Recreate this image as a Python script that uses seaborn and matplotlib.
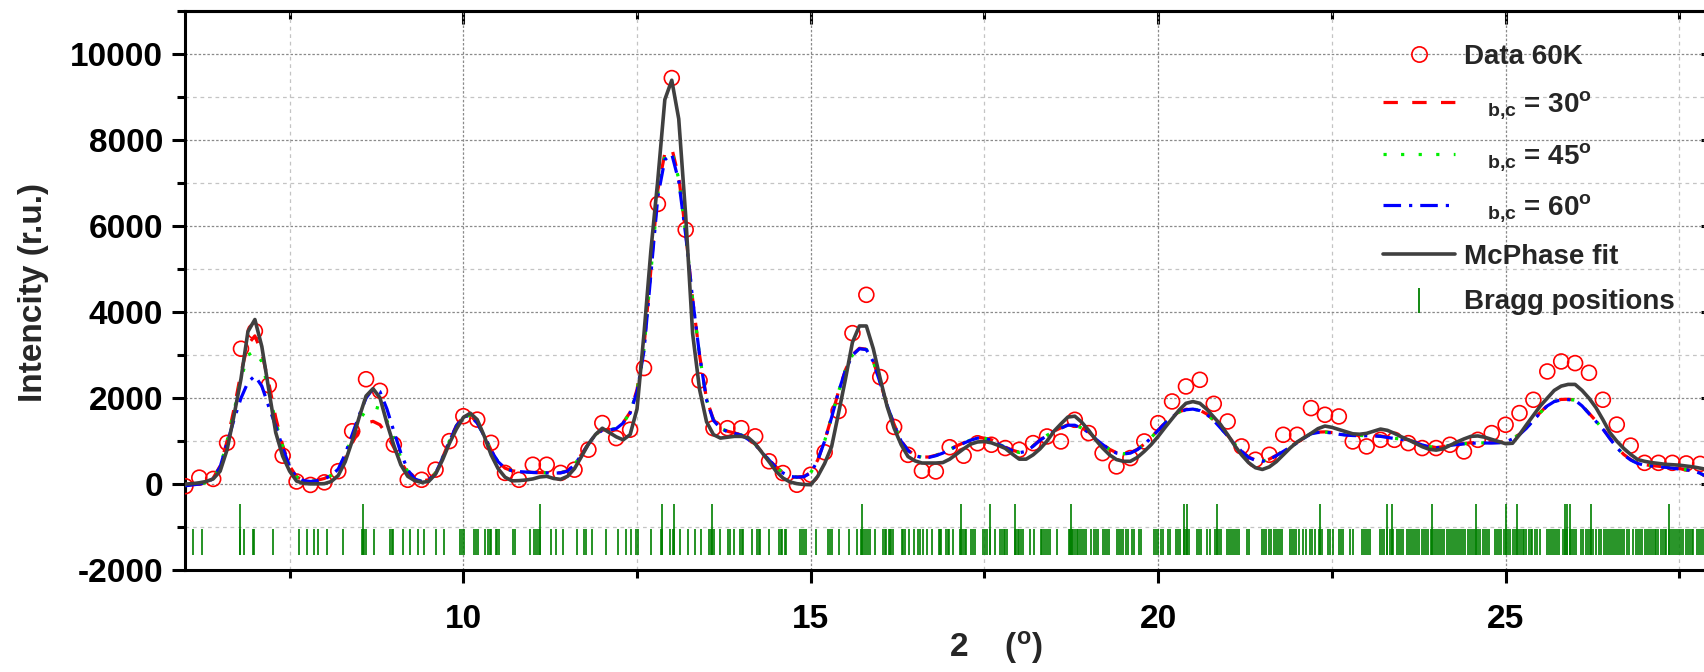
import matplotlib
matplotlib.use("Agg")
import matplotlib.pyplot as plt
from matplotlib.lines import Line2D
from matplotlib.ticker import MultipleLocator
import numpy as np
import seaborn as sns

# measured pattern at 60 K (2theta step 0.2 deg)
data_2theta = np.round(np.arange(6.0, 27.81, 0.2), 1)
data_60k = [
    -50, 150, 120, 960, 3150, 3560, 2300, 660, 60, -20,
    40, 300, 1230, 2440, 2170, 920, 100, 100, 335, 1000,
    1580, 1500, 960, 260, 100, 450, 450, 260, 335, 800,
    1420, 1070, 1265, 2700, 6520, 9450, 5920, 2410, 1300, 1300,
    1300, 1110, 530, 256, -16, 217, 740, 1700, 3513, 4405,
    2490, 1330, 680, 310, 294, 857, 660, 950, 915, 838,
    798, 953, 1108, 992, 1496, 1186, 720, 411, 605, 992,
    1418, 1923, 2272, 2427, 1868, 1457, 876, 566, 682, 1147,
    1147, 1768, 1613, 1574, 992, 876, 1030, 1030, 953, 838,
    838, 915, 760, 1030, 1186, 1380, 1652, 1962, 2621, 2854,
    2815, 2590, 1963, 1384, 895, 494, 494, 494, 480, 470,
]

# calculated curves (2theta step 0.1 deg)
fit_2theta = np.round(np.arange(6.0, 28.01, 0.1), 1)
phi30 = [
    -30, -10, 10, 40, 140, 420, 1000, 1750, 2600, 3250,
    3450, 3050, 2350, 1550, 900, 420, 170, 90, 70, 90,
    130, 210, 340, 600, 950, 1250, 1420, 1460, 1380, 1150,
    850, 520, 260, 120, 70, 100, 260, 610, 1010, 1360,
    1580, 1600, 1430, 1130, 790, 520, 370, 310, 290, 280,
    270, 265, 262, 258, 265, 310, 460, 690, 940, 1160,
    1260, 1270, 1300, 1430, 1670, 2200, 3200, 5000, 6850, 7700,
    7820, 7150, 5850, 4300, 3000, 1980, 1500, 1310, 1230, 1190,
    1150, 1050, 930, 740, 570, 400, 270, 190, 165, 175,
    270, 560, 1010, 1560, 2160, 2660, 3010, 3160, 3140, 2860,
    2360, 1840, 1390, 1010, 790, 670, 630, 630, 670, 730,
    810, 890, 960, 1030, 1080, 1070, 1030, 940, 860, 790,
    740, 770, 890, 1030, 1140, 1230, 1310, 1380, 1380, 1310,
    1210, 1060, 930, 810, 730, 710, 730, 810, 930, 1090,
    1260, 1430, 1570, 1680, 1740, 1750, 1720, 1630, 1490, 1310,
    1130, 940, 770, 630, 560, 540, 580, 670, 770, 870,
    970, 1080, 1180, 1210, 1215, 1200, 1170, 1150, 1140, 1135,
    1135, 1130, 1120, 1095, 1070, 1050, 1030, 980, 920, 880,
    850, 870, 910, 930, 945, 960, 965, 965, 965, 970,
    990, 1060, 1160, 1310, 1490, 1670, 1830, 1930, 1970, 1975,
    1960, 1830, 1650, 1470, 1290, 1070, 860, 690, 570, 490,
    450, 430, 415, 400, 380, 360, 340, 310, 250, 160,
    90,
]
phi45 = [
    -35, -15, 5, 35, 135, 410, 980, 1700, 2450, 3000,
    3100, 2850, 2150, 1450, 880, 410, 165, 85, 65, 85,
    125, 205, 350, 680, 1100, 1480, 1720, 1800, 1760, 1480,
    1060, 620, 290, 120, 65, 100, 255, 605, 1005, 1355,
    1575, 1595, 1425, 1125, 785, 520, 370, 310, 290, 280,
    270, 265, 261, 256, 262, 305, 455, 685, 935, 1155,
    1255, 1265, 1295, 1425, 1660, 2170, 3150, 4950, 6780, 7620,
    7750, 7100, 5820, 4300, 3000, 1970, 1490, 1305, 1225, 1185,
    1145, 1045, 925, 735, 565, 395, 265, 185, 162, 172,
    265, 555, 1005, 1555, 2155, 2655, 3005, 3155, 3135, 2855,
    2355, 1835, 1385, 1005, 785, 665, 625, 625, 665, 725,
    805, 885, 955, 1025, 1075, 1065, 1025, 935, 855, 785,
    735, 765, 885, 1025, 1135, 1225, 1305, 1375, 1375, 1305,
    1205, 1055, 925, 805, 725, 705, 725, 805, 925, 1085,
    1255, 1425, 1565, 1675, 1735, 1748, 1715, 1625, 1485, 1305,
    1125, 935, 765, 625, 555, 535, 575, 665, 765, 865,
    965, 1075, 1175, 1205, 1210, 1195, 1165, 1145, 1135, 1130,
    1130, 1125, 1115, 1090, 1065, 1045, 1025, 975, 915, 875,
    845, 865, 905, 925, 940, 955, 960, 960, 960, 965,
    985, 1055, 1155, 1305, 1485, 1665, 1825, 1925, 1965, 1970,
    1955, 1825, 1645, 1465, 1285, 1065, 855, 685, 565, 485,
    445, 425, 410, 395, 375, 355, 335, 310, 250, 165,
    95,
]
phi60 = [
    -40, -20, 0, 30, 130, 400, 950, 1500, 2000, 2370,
    2520, 2280, 1800, 1350, 850, 400, 160, 80, 60, 80,
    120, 200, 350, 700, 1150, 1600, 2000, 2220, 2150, 1750,
    1230, 730, 330, 120, 60, 100, 250, 600, 1000, 1350,
    1570, 1590, 1420, 1120, 780, 520, 370, 310, 290, 280,
    270, 265, 260, 255, 260, 300, 450, 680, 930, 1150,
    1250, 1260, 1290, 1420, 1650, 2150, 3100, 4900, 6700, 7550,
    7680, 7050, 5800, 4300, 3000, 1960, 1480, 1300, 1220, 1180,
    1140, 1040, 920, 730, 560, 390, 260, 180, 160, 170,
    260, 550, 1000, 1550, 2150, 2650, 3000, 3150, 3130, 2850,
    2350, 1830, 1380, 1000, 780, 660, 620, 620, 660, 720,
    800, 880, 950, 1020, 1070, 1060, 1020, 930, 850, 780,
    730, 760, 880, 1020, 1130, 1220, 1300, 1370, 1370, 1300,
    1200, 1050, 920, 800, 720, 700, 720, 800, 920, 1080,
    1250, 1420, 1560, 1670, 1730, 1745, 1710, 1620, 1480, 1300,
    1120, 930, 760, 620, 550, 530, 570, 660, 760, 860,
    960, 1070, 1170, 1200, 1205, 1190, 1160, 1140, 1130, 1125,
    1125, 1120, 1110, 1085, 1060, 1040, 1020, 970, 910, 870,
    840, 860, 900, 920, 935, 950, 955, 955, 955, 960,
    980, 1050, 1150, 1300, 1480, 1660, 1820, 1920, 1960, 1965,
    1950, 1820, 1640, 1460, 1280, 1060, 850, 680, 560, 480,
    440, 420, 405, 390, 370, 350, 330, 310, 250, 170,
    100,
]
mcphase = [
    0, 10, 30, 60, 120, 300, 800, 1600, 2450, 3550,
    3830, 3200, 2200, 1200, 650, 300, 70, 15, 5, 5,
    10, 60, 200, 520, 1000, 1550, 2050, 2220, 2010, 1420,
    900, 450, 180, 80, 40, 60, 230, 560, 950, 1280,
    1550, 1650, 1500, 1120, 680, 360, 160, 75, 80, 95,
    120, 165, 180, 130, 110, 180, 360, 640, 930, 1150,
    1300, 1200, 1100, 1030, 1150, 1750, 3500, 5450, 7100, 8950,
    9400, 8500, 6250, 3500, 2200, 1450, 1150, 1070, 1090, 1110,
    1110, 1080, 940, 730, 520, 300, 140, 50, 10, -10,
    -15, 180, 480, 870, 1650, 2450, 3300, 3680, 3680, 3150,
    2450, 1800, 1300, 920, 640, 540, 490, 490, 490, 500,
    580, 700, 820, 930, 980, 990, 960, 900, 830, 700,
    580, 580, 680, 820, 1000, 1230, 1400, 1560, 1580, 1440,
    1250, 1030, 840, 680, 570, 530, 530, 620, 760, 920,
    1110, 1320, 1520, 1720, 1880, 1920, 1880, 1740, 1560, 1380,
    1150, 900, 680, 500, 380, 340, 400, 520, 680, 840,
    980, 1080, 1180, 1290, 1350, 1320, 1270, 1220, 1170, 1160,
    1180, 1230, 1280, 1250, 1180, 1100, 1030, 950, 870, 810,
    790, 820, 900, 980, 1050, 1110, 1120, 1090, 1040, 990,
    940, 950, 1150, 1380, 1600, 1820, 2000, 2180, 2280, 2320,
    2320, 2180, 2000, 1780, 1500, 1200, 1000, 830, 690, 570,
    530, 500, 480, 460, 450, 440, 420, 400, 370, 340,
    320,
]

# Bragg reflections (2theta, deg); strong ones drawn taller
bragg_all = [
    6.11, 6.24, 6.78, 6.84, 6.97, 6.99, 7.26, 7.63, 7.75, 7.85, 7.91, 8.04, 8.27,
    8.54, 8.55, 8.57, 8.60, 8.72, 8.95, 8.97, 8.99, 9.13, 9.23, 9.35, 9.44, 9.60,
    9.72, 9.95, 9.98, 10.01, 10.16, 10.18, 10.21, 10.31, 10.35, 10.38, 10.40,
    10.47, 10.49, 10.51, 10.72, 10.74, 10.96, 11.02, 11.05, 11.07, 11.10, 11.26,
    11.34, 11.44, 11.63, 11.74, 11.77, 11.85, 12.05, 12.23, 12.34, 12.42, 12.49,
    12.52, 12.70, 12.85, 12.86, 12.98, 13.02, 13.03, 13.12, 13.23, 13.33, 13.42,
    13.53, 13.56, 13.58, 13.61, 13.69, 13.81, 13.84, 13.90, 13.98, 14.01, 14.03,
    14.16, 14.22, 14.25, 14.27, 14.40, 14.55, 14.57, 14.58, 14.63, 14.65, 14.85,
    14.88, 14.90, 14.93, 15.08, 15.25, 15.28, 15.30, 15.41, 15.55, 15.66, 15.72,
    15.74, 15.77, 15.79, 15.83, 15.85, 15.92, 16.04, 16.07, 16.09, 16.12, 16.14,
    16.16, 16.19, 16.31, 16.33, 16.36, 16.42, 16.48, 16.55, 16.57, 16.62, 16.67,
    16.74, 16.84, 16.86, 16.88, 16.94, 16.97, 16.99, 17.05, 17.15, 17.16, 17.19,
    17.22, 17.24, 17.31, 17.34, 17.36, 17.48, 17.51, 17.53, 17.58, 17.65, 17.73,
    17.75, 17.78, 17.80, 17.83, 17.94, 17.95, 17.98, 18.00, 18.03, 18.06, 18.15,
    18.22, 18.31, 18.33, 18.36, 18.38, 18.41, 18.44, 18.54, 18.71, 18.73, 18.74,
    18.76, 18.78, 18.80, 18.83, 18.85, 18.88, 18.91, 18.93, 18.96, 19.04, 19.07,
    19.10, 19.13, 19.21, 19.24, 19.27, 19.29, 19.41, 19.44, 19.47, 19.50, 19.53,
    19.56, 19.62, 19.65, 19.72, 19.75, 19.94, 19.97, 20.00, 20.04, 20.07, 20.14,
    20.17, 20.26, 20.29, 20.32, 20.37, 20.40, 20.42, 20.45, 20.56, 20.59, 20.62,
    20.70, 20.74, 20.82, 20.84, 20.87, 20.90, 20.99, 21.02, 21.05, 21.08, 21.11,
    21.14, 21.16, 21.28, 21.31, 21.49, 21.52, 21.55, 21.60, 21.63, 21.66, 21.69,
    21.72, 21.75, 21.78, 21.90, 21.93, 21.96, 21.99, 22.03, 22.09, 22.13, 22.19,
    22.22, 22.25, 22.31, 22.33, 22.36, 22.45, 22.48, 22.51, 22.60, 22.63, 22.66,
    22.76, 22.80, 22.93, 22.96, 22.99, 23.02, 23.05, 23.19, 23.22, 23.25, 23.30,
    23.33, 23.36, 23.38, 23.43, 23.46, 23.49, 23.52, 23.58, 23.61, 23.64, 23.67,
    23.70, 23.73, 23.76, 23.80, 23.83, 23.86, 23.89, 23.92, 23.94, 23.97, 24.00,
    24.03, 24.06, 24.09, 24.12, 24.15, 24.18, 24.21, 24.24, 24.27, 24.30, 24.33,
    24.36, 24.39, 24.41, 24.46, 24.49, 24.52, 24.54, 24.57, 24.60, 24.63, 24.67,
    24.70, 24.73, 24.76, 24.85, 24.88, 24.91, 24.94, 24.97, 25.01, 25.04, 25.07,
    25.10, 25.13, 25.16, 25.19, 25.22, 25.25, 25.27, 25.30, 25.33, 25.36, 25.38,
    25.42, 25.45, 25.49, 25.59, 25.62, 25.65, 25.68, 25.71, 25.74, 25.77, 25.83,
    25.85, 25.89, 25.93, 25.96, 25.99, 26.02, 26.09, 26.12, 26.15, 26.18, 26.21,
    26.23, 26.26, 26.30, 26.35, 26.38, 26.41, 26.44, 26.47, 26.50, 26.53, 26.56,
    26.59, 26.62, 26.65, 26.68, 26.71, 26.74, 26.77, 26.84, 26.87, 26.90, 26.93,
    26.97, 27.00, 27.03, 27.06, 27.09, 27.12, 27.15, 27.17, 27.20, 27.23, 27.26,
    27.29, 27.31, 27.35, 27.38, 27.41, 27.44, 27.47, 27.50, 27.53, 27.56, 27.59,
    27.62, 27.65, 27.68, 27.70, 27.75, 27.78, 27.81, 27.84, 27.87, 27.90, 27.94,
    27.97,
]
bragg_strong = [
    6.78, 8.55, 11.10, 12.86, 13.03, 13.58, 15.74, 17.16, 17.58, 17.94, 18.74,
    20.37, 20.42, 20.84, 22.33, 23.30, 23.36, 23.94, 24.57, 25.01, 25.16, 25.85,
    25.89, 25.93, 26.23, 27.35,
]

sns.set_theme(style="ticks")
plt.rcParams["font.family"] = ["Liberation Sans", "DejaVu Sans"]
plt.rcParams["font.weight"] = "bold"
plt.rcParams["mathtext.fontset"] = "custom"
plt.rcParams["mathtext.rm"] = "Liberation Sans:bold"
plt.rcParams["mathtext.bf"] = "Liberation Sans:bold"
plt.rcParams["mathtext.it"] = "Liberation Sans:bold"
plt.rcParams["mathtext.default"] = "rm"
plt.rcParams["axes.unicode_minus"] = False

RED, GREEN, BLUE, GREY, OLIVE = "#ff0000", "#00ee00", "#0000ff", "#404040", "#008000"
dash30 = (0, (4.5, 4.5))
dot45 = (0, (1.0, 4.5))
dashdot60 = (0, (5.5, 2.5, 1.0, 2.5))

fig = plt.figure(figsize=(17.04, 6.72), dpi=100)
ax = fig.add_axes([0.1088, 0.1518, 0.8971, 0.8311])

# bragg markers
ax.vlines(bragg_all, -1640, -1050, color=OLIVE, linewidth=1.2, zorder=2)
ax.vlines(bragg_strong, -1640, -470, color=OLIVE, linewidth=1.2, zorder=2)

sns.scatterplot(x=data_2theta, y=data_60k, ax=ax, marker="o", s=115,
                color=RED, edgecolor=RED, linewidth=1.2, zorder=3)
ax.collections[-1].set_facecolor("none")

sns.lineplot(x=fit_2theta, y=phi30, ax=ax, color=RED, linewidth=2.3,
             linestyle=dash30, errorbar=None, zorder=4)
sns.lineplot(x=fit_2theta, y=phi45, ax=ax, color=GREEN, linewidth=2.3,
             linestyle=dot45, errorbar=None, zorder=4)
sns.lineplot(x=fit_2theta, y=phi60, ax=ax, color=BLUE, linewidth=2.3,
             linestyle=dashdot60, errorbar=None, zorder=4)
sns.lineplot(x=fit_2theta, y=mcphase, ax=ax, color=GREY, linewidth=2.6,
             errorbar=None, zorder=5)

ax.set_xlim(6, 28)
ax.set_ylim(-2000, 11000)
ax.xaxis.set_major_locator(MultipleLocator(5))
ax.xaxis.set_minor_locator(MultipleLocator(2.5))
ax.yaxis.set_major_locator(MultipleLocator(2000))
ax.yaxis.set_minor_locator(MultipleLocator(1000))
ax.set_axisbelow(True)
ax.grid(which="major", color="#8a8a8a", linestyle=(0, (2, 1.5)), linewidth=0.9)
ax.grid(which="minor", color="#c4c4c4", linestyle=(0, (3, 3)), linewidth=0.9)
ax.set_xlabel("")
ax.set_ylabel("")

ax.tick_params(which="both", direction="out", width=2.2, color="black",
               labelsize=24, labelcolor="black", top=False, right=False)
ax.tick_params(which="major", length=9.5)
ax.tick_params(which="minor", length=6)
ax.tick_params(axis="x", which="major", pad=15)
ax.tick_params(axis="y", which="major", pad=6.5)
for sp in ax.spines.values():
    sp.set_linewidth(2.2)
    sp.set_color("black")

# inward ticks on top and right (Origin style)
top = ax.secondary_xaxis("top")
top.xaxis.set_major_locator(MultipleLocator(5))
top.xaxis.set_minor_locator(MultipleLocator(2.5))
right = ax.secondary_yaxis("right")
right.yaxis.set_major_locator(MultipleLocator(2000))
right.yaxis.set_minor_locator(MultipleLocator(1000))
for sec in (top, right):
    sec.tick_params(which="both", direction="in", width=2.2, color="black",
                    labeltop=False, labelright=False, labelbottom=False, labelleft=False)
    sec.tick_params(which="major", length=9.5)
    sec.tick_params(which="minor", length=6)
    for sp in sec.spines.values():
        sp.set_linewidth(2.2)
        sp.set_color("black")

fig.text(34 / 1704, 1 - 293 / 672, "Intencity (r.u.)", rotation=90,
         ha="center", va="center", fontsize=24)
fig.text(996 / 1704, 1 - 648 / 672, r"2    ($^{o}$)", ha="center", va="center",
         fontsize=24)

handles = [
    Line2D([], [], ls="none", marker="o", ms=11, mfc="none", mec=RED, mew=1.2),
    Line2D([], [], color=RED, lw=2.3, ls=dash30),
    Line2D([], [], color=GREEN, lw=2.3, ls=dot45),
    Line2D([], [], color=BLUE, lw=2.3, ls=dashdot60),
    Line2D([], [], color=GREY, lw=2.6),
    Line2D([], [], ls="none", marker="|", ms=18, mec=OLIVE, mew=1.3),
]
labels = [
    "Data 60K",
    r"   $_{b{,}c}$ = 30$^{o}$",
    r"   $_{b{,}c}$ = 45$^{o}$",
    r"   $_{b{,}c}$ = 60$^{o}$",
    "McPhase fit",
    "Bragg positions",
]
fig.legend(handles, labels, loc="upper left", bbox_to_anchor=(1383 / 1704, 1 - 44 / 672),
           frameon=False, fontsize=20, borderpad=0, borderaxespad=0,
           handlelength=2.6, handletextpad=0.3, labelspacing=0.7)

fig.savefig("out.png", dpi=100)
